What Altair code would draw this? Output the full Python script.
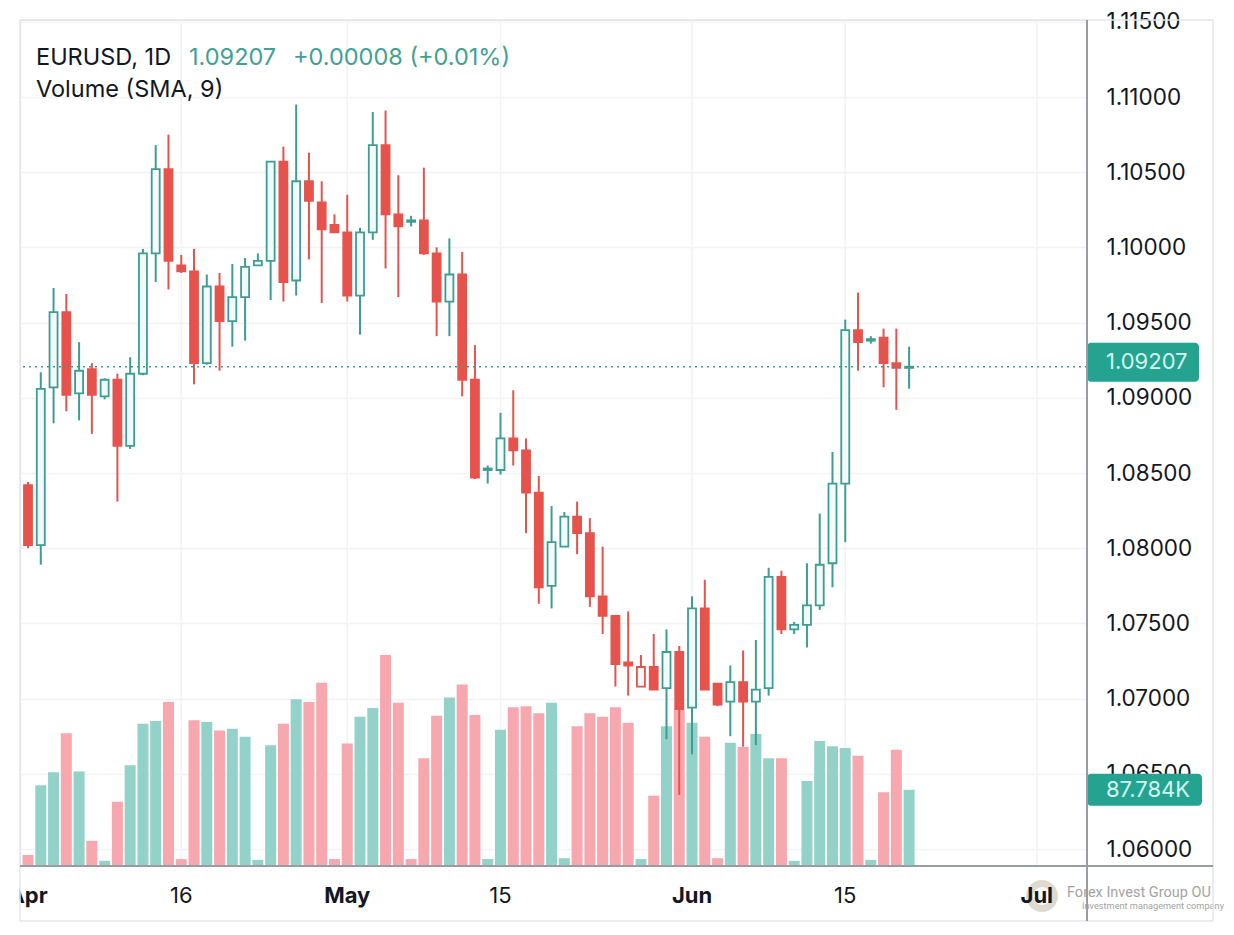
import altair as alt
import pandas as pd

# ---------------- data ----------------
# bar index: trading sessions Sun-Fri, 0 = Apr 2 2023 ... 69 = Jun 21 2023
opens = [1.0842, 1.0802, 1.0907, 1.0957, 1.0903, 1.0919, 1.0901, 1.0912, 1.0868, 1.0916,
         1.0996, 1.1052, 1.0988, 1.0984, 1.0923, 1.0974, 1.0951, 1.0967, 1.0988, 1.0991,
         1.1057, 1.0978, 1.1044, 1.1030, 1.1015, 1.1010, 1.0968, 1.1010, 1.1068, 1.1022,
         1.1018, 1.1018, 1.0996, 1.0964, 1.0982, 1.0912, 1.0852, 1.0852, 1.0873, 1.0865,
         1.0837, 1.0775, 1.0801, 1.0821, 1.0810, 1.0768, 1.0755, 1.0724, 1.0708, 1.0721,
         1.0707, 1.0731, 1.0694, 1.0760, 1.0710, 1.0698, 1.0711, 1.0698, 1.0707, 1.0781,
         1.0746, 1.0749, 1.0762, 1.0790, 1.0843, 1.0945, 1.0938, 1.0940, 1.0923, 1.09199]
highs = [1.0844, 1.0917, 1.0973, 1.0969, 1.0937, 1.0923, 1.0913, 1.0916, 1.0927, 1.0999,
         1.1068, 1.1075, 1.0995, 1.0999, 1.0982, 1.0983, 1.0989, 1.0993, 1.0996, 1.1057,
         1.1067, 1.1095, 1.1063, 1.1044, 1.1022, 1.1035, 1.1013, 1.1090, 1.1091, 1.1048,
         1.1021, 1.1053, 1.1000, 1.1006, 1.0997, 1.0935, 1.0855, 1.0890, 1.0905, 1.0873,
         1.0848, 1.0828, 1.0824, 1.0831, 1.0820, 1.0801, 1.0755, 1.0758, 1.0729, 1.0743,
         1.0746, 1.0735, 1.0768, 1.0779, 1.0710, 1.0722, 1.0732, 1.0739, 1.0787, 1.0785,
         1.0751, 1.0790, 1.0823, 1.0864, 1.0952, 1.0970, 1.0941, 1.0946, 1.0946, 1.0934]
lows = [1.0800, 1.0789, 1.0883, 1.0891, 1.0885, 1.0876, 1.0899, 1.0831, 1.0866, 1.0915,
        1.0977, 1.0972, 1.0983, 1.0909, 1.0922, 1.0918, 1.0934, 1.0938, 1.0988, 1.0965,
        1.0964, 1.0968, 1.0992, 1.0963, 1.1010, 1.0964, 1.0942, 1.1005, 1.0986, 1.0967,
        1.1014, 1.0995, 1.0941, 1.0941, 1.0901, 1.0846, 1.0843, 1.0849, 1.0855, 1.0810,
        1.0763, 1.0760, 1.0801, 1.0796, 1.0761, 1.0743, 1.0708, 1.0702, 1.0708, 1.0706,
        1.0673, 1.0636, 1.0663, 1.0706, 1.0695, 1.0675, 1.0668, 1.0669, 1.0702, 1.0743,
        1.0743, 1.0734, 1.0759, 1.0774, 1.0804, 1.0918, 1.0936, 1.0907, 1.0892, 1.0906]
closes = [1.0802, 1.0906, 1.0957, 1.0902, 1.0918, 1.0902, 1.0912, 1.0868, 1.0916, 1.0996,
          1.1052, 1.0991, 1.0984, 1.0923, 1.0974, 1.0951, 1.0967, 1.0987, 1.0991, 1.1057,
          1.0977, 1.1044, 1.1031, 1.1012, 1.1010, 1.0968, 1.1010, 1.1068, 1.1022, 1.1014,
          1.1017, 1.0996, 1.0964, 1.0982, 1.0912, 1.0847, 1.0853, 1.0873, 1.0865, 1.0837,
          1.0774, 1.0804, 1.0821, 1.0810, 1.0768, 1.0755, 1.0723, 1.0722, 1.0721, 1.0706,
          1.0731, 1.0693, 1.0760, 1.0706, 1.0696, 1.0711, 1.0698, 1.0706, 1.0781, 1.0746,
          1.0749, 1.0762, 1.0789, 1.0843, 1.0945, 1.0937, 1.0939, 1.0923, 1.09199, 1.09207]
volumes_k = [12.7, 93, 108, 153, 109, 29, 6, 74, 116, 164,
             167, 189, 8, 168, 166, 156, 158, 149, 7, 139,
             164, 192, 189, 211, 8, 141, 172, 182, 243, 188,
             8, 124, 173, 194, 209, 174, 8, 157, 183, 184,
             176, 188, 9, 161, 176, 172, 183, 165, 8, 81,
             161, 180, 165, 149, 9, 142, 137, 152, 124, 124,
             6, 98, 144, 138, 136, 127, 7, 85, 134, 87.784]

tick_idx = [0, 12, 25, 37, 52, 64, 79]
tick_labels = ["Apr", "16", "May", "15", "Jun", "15", "Jul"]
tick_bold = [True, False, True, False, True, False, True]
price_ticks = [1.060, 1.065, 1.070, 1.075, 1.080, 1.085, 1.090, 1.095, 1.100, 1.105, 1.110, 1.115]

last_price = 1.09207
last_volume = 87.784

# ---------------- frames ----------------
n = len(closes)
df = pd.DataFrame({"idx": list(range(n)), "open": opens, "high": highs,
                   "low": lows, "close": closes, "vol": volumes_k})
prev = [opens[0]] + closes[:-1]
df["cup"] = [c >= p for c, p in zip(closes, prev)]
df["fillkey"] = ["hollow" if c > o else ("up" if u else "down")
                 for c, o, u in zip(closes, opens, df["cup"])]
df["vup"] = [c >= o for c, o in zip(closes, opens)]
ticks = pd.DataFrame({"idx": tick_idx, "label": tick_labels, "bold": tick_bold})
one = pd.DataFrame({"k": [0]})

TEAL = "#3d9d92"
RED = "#e6534d"
HOLLOW = "#f3fbfa"
VTEAL = "#93d2c8"
VPINK = "#f6a8ae"
FRAME = "#e4e6ec"
AXIS = "#9a9ca3"
GRID = "#f1f3f7"
FONT = "Inter"

W, H = 1067, 846

xs = alt.Scale(domain=[-0.236, 82.54], nice=False, zero=False)
ys = alt.Scale(domain=[1.05887, 1.11512], nice=False, zero=False)
vs = alt.Scale(domain=[0, 974.6], nice=False, zero=False)
X = alt.X("idx:Q", scale=xs, axis=None)

price_axis = alt.Axis(orient="right", values=price_ticks, format=".5f", title=None,
                      labelFontSize=22.5, labelFont=FONT, labelColor="#131722",
                      labelPadding=19, ticks=False, tickSize=0, domain=False,
                      grid=True, gridColor=GRID, gridWidth=1.5,
                      labelOverlap=False, labelBound=False, labelFlush=False)

# vertical grid lines
vgrid = alt.Chart(ticks).transform_filter("datum.idx > 0").mark_rule(
    color=GRID, strokeWidth=1.5).encode(x=alt.X("idx:Q", scale=xs, axis=None))

vol = alt.Chart(df).mark_bar(size=11).encode(
    x=X,
    y=alt.Y("vol:Q", scale=vs, axis=None),
    color=alt.condition("datum.vup", alt.value(VTEAL), alt.value(VPINK)),
)

vol_box = alt.Chart(one).mark_rect(cornerRadius=4, yOffset=-16, y2Offset=16, color="#25a391").encode(
    x=alt.value(W), x2=alt.value(W + 115),
    y=alt.datum(last_volume, scale=vs), y2=alt.datum(last_volume))
vol_txt = alt.Chart(one).mark_text(text="87.784K", align="left", baseline="middle",
                                   font=FONT, fontSize=22, color="#d2f5ef").encode(
    x=alt.value(W + 19), y=alt.datum(last_volume, scale=vs))

vol_layer = alt.layer(vgrid, vol, vol_box, vol_txt)

wicks = alt.Chart(df).mark_rule(strokeWidth=2).encode(
    x=X,
    y=alt.Y("low:Q", scale=ys, axis=price_axis),
    y2="high:Q",
    color=alt.condition("datum.cup", alt.value(TEAL), alt.value(RED)),
)
bodies = alt.Chart(df).mark_bar(size=8, strokeWidth=1.8).encode(
    x=X,
    y=alt.Y("open:Q", scale=ys),
    y2="close:Q",
    stroke=alt.condition("datum.cup", alt.value(TEAL), alt.value(RED)),
    fill=alt.Fill("fillkey:N", scale=alt.Scale(domain=["hollow", "up", "down"],
                                               range=[HOLLOW, TEAL, RED]), legend=None),
)
last_line = alt.Chart(one).mark_rule(color="#3d9d92", strokeDash=[2, 4], strokeWidth=1.5).encode(
    y=alt.datum(last_price, scale=ys))
price_box = alt.Chart(one).mark_rect(cornerRadius=4, yOffset=-24, y2Offset=15, color="#25a391").encode(
    x=alt.value(W), x2=alt.value(W + 112),
    y=alt.datum(last_price, scale=ys), y2=alt.datum(last_price))
price_txt = alt.Chart(one).mark_text(text="1.09207", align="left", baseline="middle", dy=-5,
                                     font=FONT, fontSize=22, color="#d2f5ef").encode(
    x=alt.value(W + 19), y=alt.datum(last_price, scale=ys))

price_layer = alt.layer(wicks, bodies, last_line, price_box, price_txt)

# header texts
hdr = pd.DataFrame({
    "t": ["EURUSD, 1D", "1.09207", "+0.00008 (+0.01%)", "Volume (SMA, 9)"],
    "x": [16, 169, 273, 16],
    "y": [38, 38, 38, 70],
    "c": ["#131722", "#42a094", "#42a094", "#131722"],
})
header = alt.Chart(hdr).mark_text(align="left", baseline="middle", font=FONT, fontSize=23.5).encode(
    x=alt.X("x:Q", scale=None), y=alt.Y("y:Q", scale=None), text="t:N",
    color=alt.Color("c:N", scale=None))

# watermark logo (under the "Jul" label)
logo = alt.Chart(one).mark_point(shape="circle", size=620, filled=False, strokeWidth=7,
                                 color="#dcd6cc", opacity=0.9).encode(
    x=alt.value(1022), y=alt.value(876))

# date labels
date_bold = alt.Chart(ticks).transform_filter("datum.bold").mark_text(
    font=FONT, fontSize=22, fontWeight="bold", color="#131722", baseline="middle").encode(
    x=alt.X("idx:Q", scale=xs, axis=None), y=alt.value(H + 30), text="label:N")
date_norm = alt.Chart(ticks).transform_filter("!datum.bold").mark_text(
    font=FONT, fontSize=22, color="#131722", baseline="middle").encode(
    x=alt.X("idx:Q", scale=xs, axis=None), y=alt.value(H + 30), text="label:N")

# clip of the "Apr" label at the left frame
mask = alt.Chart(one).mark_rect(color="white").encode(
    x=alt.value(-14), x2=alt.value(-0.5), y=alt.value(H + 5), y2=alt.value(H + 50))

wm1 = alt.Chart(one).mark_text(text="Forex Invest Group OU", align="left", baseline="middle",
                               font="Roboto", fontSize=14.5,
                               color="#a3a3a3").encode(x=alt.value(1047), y=alt.value(873))
wm2 = alt.Chart(one).mark_text(text="Investment management company", align="left", baseline="middle",
                               font="Roboto", fontSize=9.2, color="#a3a3a3").encode(
    x=alt.value(1062), y=alt.value(886))

def rule(x1, x2, y1, y2, color, w):
    return alt.Chart(one).mark_rule(color=color, strokeWidth=w).encode(
        x=alt.value(x1), x2=alt.value(x2), y=alt.value(y1), y2=alt.value(y2))

frame = [
    rule(0, 1193, 0, 0, FRAME, 1.5),
    rule(0, 0, 0, 901, FRAME, 1.5),
    rule(1193, 1193, 0, 901, FRAME, 1.5),
    rule(0, 1193, 901, 901, FRAME, 1.5),
    rule(W, W, 0, 901, AXIS, 2),
    rule(0, 1193, H, H, AXIS, 2),
]

overlay = alt.layer(header, logo, date_norm, date_bold, mask, wm1, wm2, *frame)

chart = alt.layer(vol_layer, price_layer, overlay).resolve_scale(y="independent").properties(
    width=W, height=H,
    autosize=alt.AutoSizeParams(type="none"),
    padding={"left": 12, "top": 12, "right": 138, "bottom": 58},
).configure_view(stroke=None).configure(background="white")

chart.save("out.html", embed_options={"renderer": "svg", "actions": False})
